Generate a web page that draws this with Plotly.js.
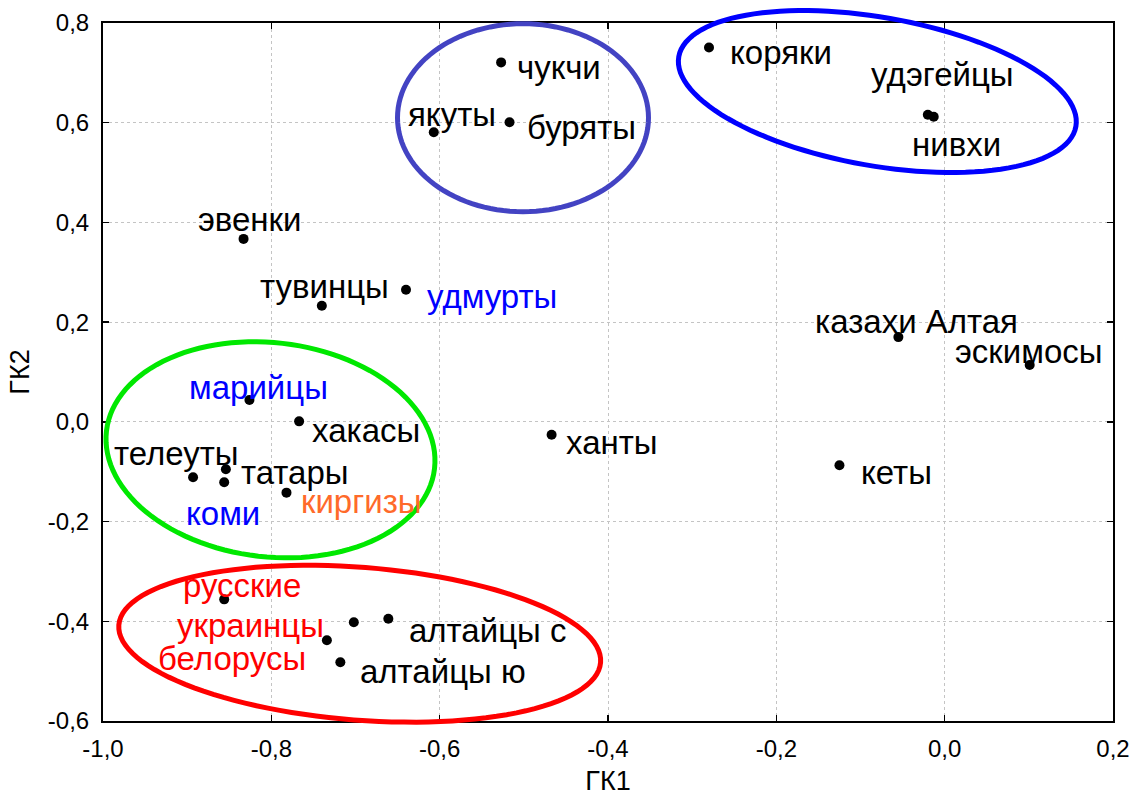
<!DOCTYPE html>
<html>
<head>
<meta charset="utf-8">
<script src="https://cdn.plot.ly/plotly-3.0.1.min.js"></script>
<style>html,body{margin:0;padding:0;background:#fff;}#chart{width:1138px;height:796px;}</style>
</head>
<body>
<div id="chart"></div>
<script>
// ---- data ----
const names = ["эвенки","тувинцы","удмурты","чукчи","якуты","буряты","коряки","удэгейцы","нивхи",
  "казахи Алтая","эскимосы","ханты","кеты","марийцы","хакасы","телеуты","татары","коми","киргизы",
  "русские","украинцы","белорусы","алтайцы с","алтайцы ю"];
const gk1 = [-0.833,-0.740,-0.640,-0.527,-0.607,-0.517,-0.280,-0.020,-0.013,
  -0.055,0.101,-0.467,-0.125,-0.826,-0.767,-0.893,-0.854,-0.856,-0.782,
  -0.856,-0.702,-0.734,-0.661,-0.718];
const gk2 = [0.367,0.233,0.265,0.721,0.581,0.601,0.751,0.616,0.612,
  0.170,0.114,-0.026,-0.087,0.044,0.001,-0.111,-0.095,-0.121,-0.142,
  -0.356,-0.402,-0.438,-0.395,-0.482];
const xTickVals = [-1.0,-0.8,-0.6,-0.4,-0.2,0.0,0.2];
const xTickLabels = ["-1,0","-0,8","-0,6","-0,4","-0,2","0,0","0,2"];
const yTickVals = [-0.6,-0.4,-0.2,0.0,0.2,0.4,0.6,0.8];
const yTickLabels = ["-0,6","-0,4","-0,2","0,0","0,2","0,4","0,6","0,8"];

// ---- label styling (colour + pixel offset from its point) ----
const labelColor = ["#000","#000","#0000ff","#000","#000","#000","#000","#000","#000",
  "#000","#000","#000","#000","#0000ff","#000","#000","#000","#0000ff","#ff6a2a",
  "#ff0000","#ff0000","#ff0000","#000","#000"];
const labelDx = [6,3,86,58,18,72,72,15,23,18,-1,60,57,9,67,-17,69,-1,75,18,-103,-95,99,103];
const labelDy = [-19,-19,7,5,-18,5,5,-40,28,-16,-14,8,7,-12,9,-24,3,31,9,-14,3,18,12,9];

// ---- layout geometry ----
const W = 1138, H = 796;
const M = {l:103, r:25, t:23, b:75};
const PW = W - M.l - M.r, PH = H - M.t - M.b;
const xr = [-1.0, 0.2], yr = [-0.6, 0.8];

// ellipse outlines: centre in data units, semi-axes in px, rotation in degrees (clockwise on screen)
const ellipses = [
  {cx:-0.501, cy:0.610, a:125.5, b:94, rot:0, color:"#4343c3"},
  {cx:-0.080, cy:0.6625, a:201.6, b:74.2, rot:9.97, color:"#0000ff"},
  {cx:-0.801, cy:-0.056, a:165.1, b:107.1, rot:6.5, color:"#00e800"},
  {cx:-0.695, cy:-0.445, a:241.6, b:76.4, rot:4.44, color:"#ff0000"}
];
function ellipsePath(e){
  const px0 = (e.cx - xr[0])/(xr[1]-xr[0]);
  const py0 = (e.cy - yr[0])/(yr[1]-yr[0]);
  const th = e.rot*Math.PI/180;
  let p = "";
  const n = 120;
  for(let i=0;i<=n;i++){
    const t = 2*Math.PI*i/n;
    const ex = e.a*Math.cos(t), ey = e.b*Math.sin(t);
    const dx = ex*Math.cos(th) - ey*Math.sin(th);
    const dy = ex*Math.sin(th) + ey*Math.cos(th); // screen-down
    const X = px0 + dx/PW, Y = py0 - dy/PH;
    p += (i===0?"M":"L") + X.toFixed(5) + "," + Y.toFixed(5);
  }
  return p + "Z";
}
const shapes = ellipses.map(e => ({type:"path", xref:"paper", yref:"paper", path:ellipsePath(e),
  line:{color:e.color, width:5}, layer:"above"}));

const FONT = "Liberation Sans, Arial, sans-serif";
const annotations = names.map((n,i) => ({x:gk1[i], y:gk2[i], xref:"x", yref:"y", text:n,
  showarrow:false, xanchor:"center", yanchor:"middle", xshift:labelDx[i], yshift:-labelDy[i],
  font:{family:FONT, size:33, color:labelColor[i]}}));

const trace = {x:gk1, y:gk2, mode:"markers", type:"scatter",
  marker:{color:"#000", size:10}, hoverinfo:"none", cliponaxis:false};

const axisCommon = {showline:true, linecolor:"#000", linewidth:2, mirror:"ticks",
  ticks:"inside", ticklen:6, tickwidth:1.5, tickcolor:"#000",
  showgrid:true, gridcolor:"#c4c4c4", gridwidth:1, griddash:"dot", zeroline:false,
  tickfont:{family:FONT, size:24, color:"#000"}};

const layout = {
  width:W, height:H, margin:M, paper_bgcolor:"#fff", plot_bgcolor:"#fff", showlegend:false,
  xaxis:Object.assign({}, axisCommon, {range:xr, tickmode:"array", tickvals:xTickVals, ticktext:xTickLabels,
    ticklabelstandoff:5,
    title:{text:"ГК1", font:{family:FONT, size:27, color:"#000"}, standoff:14}}),
  yaxis:Object.assign({}, axisCommon, {range:yr, tickmode:"array", tickvals:yTickVals, ticktext:yTickLabels,
    ticklabelstandoff:7,
    title:{text:"ГК2", font:{family:FONT, size:27, color:"#000"}, standoff:10}}),
  shapes:shapes, annotations:annotations
};
Plotly.newPlot("chart", [trace], layout, {staticPlot:true, displayModeBar:false});
</script>
</body>
</html>
